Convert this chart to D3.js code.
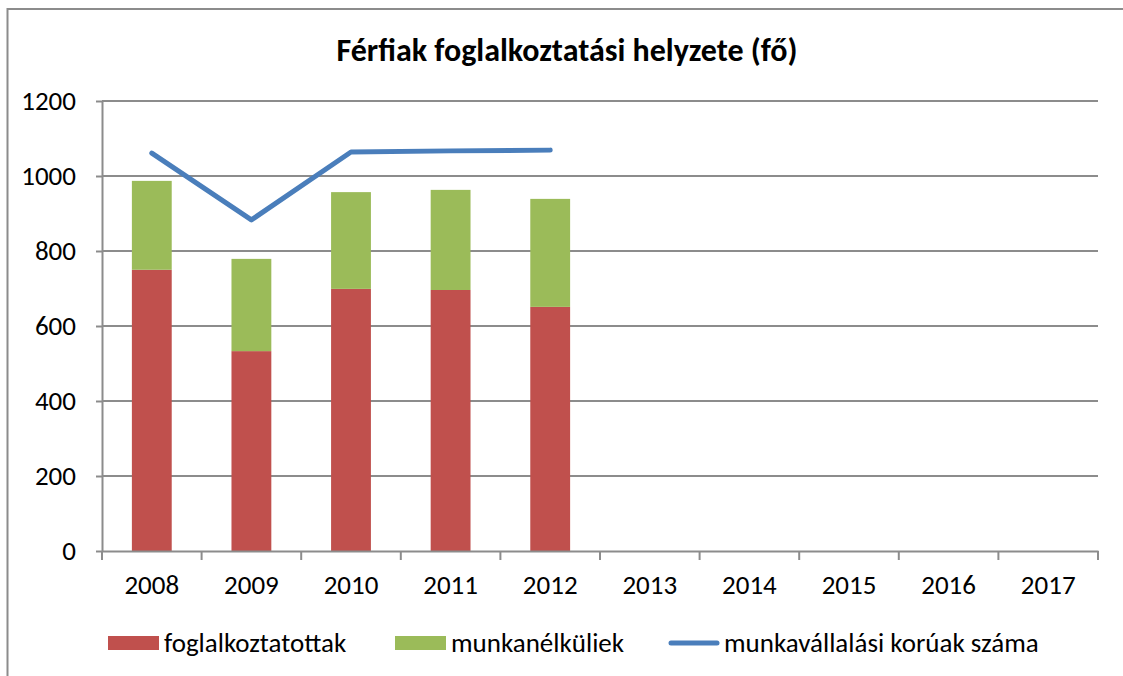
<!DOCTYPE html>
<meta charset="utf-8">
<style>
body{margin:0;background:#fff;}
text{font-family:Carlito,"Liberation Sans Narrow","Liberation Sans",Arial,sans-serif;fill:#000;}
.title{font-size:32px;font-weight:bold;text-anchor:middle;}
.tick text{font-size:27px;}
.legend text{font-size:27px;}
</style>
<body>
<script src="https://d3js.org/d3.v7.min.js"></script>
<script>

var years=['2008','2009','2010','2011','2012','2013','2014','2015','2016','2017'];
var foglalkoztatottak=[750,533,699,696,651];
var munkanelkuliek=[237,246,258,267,288];
var korosok=[1061,883,1064,1067,1069];
var yTicks=[0,200,400,600,800,1000,1200];

var W=1123,H=676;
var m={left:102,right:25,top:101,bottom:125};

var svg=d3.select("body").append("svg").attr("width",W).attr("height",H);

// outer chart border (right and bottom fall outside the picture)
svg.append("rect").attr("x",7.5).attr("y",9).attr("width",1200).attr("height",800)
	.attr("fill","none").attr("stroke","#8c8c8c").attr("stroke-width",2);

svg.append("text").attr("class","title").attr("x",567).attr("y",61)
	.text("Férfiak foglalkoztatási helyzete (fő)");

var x=d3.scaleBand().domain(years).range([m.left,W-m.right]).paddingInner(0.6).paddingOuter(0.3);
var y=d3.scaleLinear().domain([0,1200]).range([H-m.bottom,m.top]);

// gridlines
svg.append("g").selectAll("line").data(yTicks.slice(1)).join("line")
	.attr("x1",m.left).attr("x2",W-m.right)
	.attr("y1",d=>y(d)).attr("y2",d=>y(d))
	.attr("stroke","#8c8c8c").attr("stroke-width",2);

var stack=years.slice(0,foglalkoztatottak.length).map((yr,i)=>({yr:yr,a:foglalkoztatottak[i],b:munkanelkuliek[i]}));

svg.append("g").selectAll("rect").data(stack).join("rect")
	.attr("x",d=>x(d.yr)).attr("width",x.bandwidth())
	.attr("y",d=>y(d.a)).attr("height",d=>y(0)-y(d.a))
	.attr("fill","#c0504d");
svg.append("g").selectAll("rect").data(stack).join("rect")
	.attr("x",d=>x(d.yr)).attr("width",x.bandwidth())
	.attr("y",d=>y(d.a+d.b)).attr("height",d=>y(d.a)-y(d.a+d.b))
	.attr("fill","#9bbb59");

var line=d3.line().x((d,i)=>x(years[i])+x.bandwidth()/2).y(d=>y(d));
svg.append("path").datum(korosok).attr("d",line)
	.attr("fill","none").attr("stroke","#4a7ebb").attr("stroke-width",5)
	.attr("stroke-linecap","round").attr("stroke-linejoin","round");

// axes
var yAxis=svg.append("g").attr("transform","translate("+m.left+",0)")
	.call(d3.axisLeft(y).tickValues(yTicks).tickFormat(d3.format("d")).tickSize(6).tickPadding(20).tickSizeOuter(0));
var xAxis=svg.append("g").attr("transform","translate(0,"+y(0)+")")
	.call(d3.axisBottom(x).tickSize(0).tickPadding(24).tickSizeOuter(0));
xAxis.selectAll(".tick text").attr("dy","0.71em");
// category boundary ticks
var step=x.step();
xAxis.selectAll(".bound").data(d3.range(years.length+1)).join("line").attr("class","bound")
	.attr("x1",i=>m.left+i*step).attr("x2",i=>m.left+i*step)
	.attr("y1",0).attr("y2",9).attr("stroke","#8c8c8c").attr("stroke-width",2);
[yAxis,xAxis].forEach(function(a){
	a.select(".domain").attr("stroke","#8c8c8c").attr("stroke-width",2);
	a.selectAll(".tick line").attr("stroke","#8c8c8c").attr("stroke-width",2);
});

// legend
var legend=svg.append("g").attr("class","legend");
var items=[
	{label:"foglalkoztatottak",x:108,type:"rect",color:"#c0504d"},
	{label:"munkanélküliek",x:395,type:"rect",color:"#9bbb59"},
	{label:"munkavállalási korúak száma",x:668,type:"line",color:"#4a7ebb"}
];
items.forEach(function(it){
	if(it.type=="rect"){
		legend.append("rect").attr("x",it.x).attr("y",636).attr("width",51).attr("height",14).attr("fill",it.color);
	}else{
		legend.append("line").attr("x1",it.x+3).attr("x2",it.x+49).attr("y1",643).attr("y2",643)
			.attr("stroke",it.color).attr("stroke-width",5).attr("stroke-linecap","round");
	}
	legend.append("text").attr("x",it.x+56).attr("y",652).text(it.label);
});
</script>
</body>
</html>
